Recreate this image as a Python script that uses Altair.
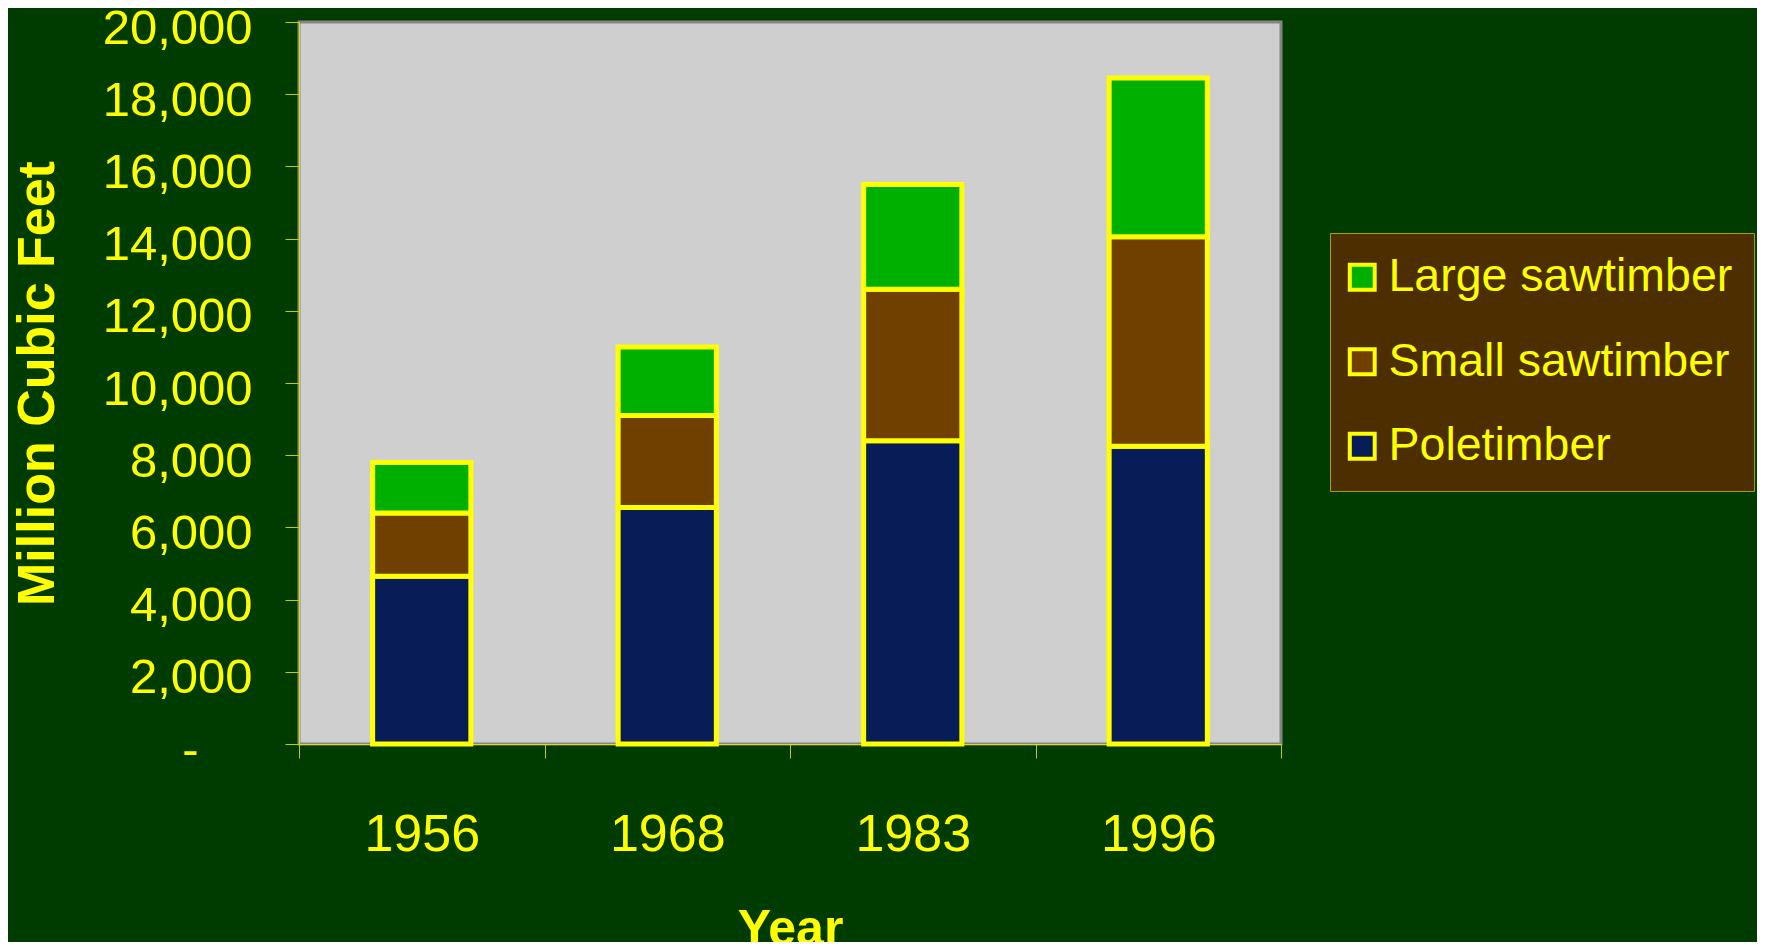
import altair as alt
import pandas as pd

years = ["1956", "1968", "1983", "1996"]
poletimber = [4650, 6550, 8400, 8250]
small_saw = [1750, 2550, 4200, 5800]
large_saw = [1400, 1900, 2900, 4400]
series = ["Large sawtimber", "Small sawtimber", "Poletimber"]
colors = ["#00B000", "#704000", "#081C58"]
y_ticks = list(range(0, 20001, 2000))

rows = []
for i, yr in enumerate(years):
    rows.append({"Year": yr, "Type": "Poletimber", "Value": poletimber[i], "ord": 0})
    rows.append({"Year": yr, "Type": "Small sawtimber", "Value": small_saw[i], "ord": 1})
    rows.append({"Year": yr, "Type": "Large sawtimber", "Value": large_saw[i], "ord": 2})
df = pd.DataFrame(rows)

YEL = "#FFFF00"
FONT = "Liberation Sans, Arial"

chart = alt.Chart(df).mark_bar(
    stroke=YEL, strokeWidth=5, strokeJoin="miter", width={"band": 0.4}
).encode(
    x=alt.X(
        "Year:N",
        sort=years,
        scale=alt.Scale(paddingInner=0, paddingOuter=0),
        axis=alt.Axis(
            title="Year",
            labelAngle=0,
            tickBand="extent",
            tickSize=14,
            tickColor="#C8C800",
            tickWidth=1,
            domainColor="#E0E000",
            domainWidth=1,
            labelFont=FONT,
            labelFontSize=52,
            labelColor=YEL,
            labelPadding=51,
            labelBaseline="top",
            titleFont=FONT,
            titleFontSize=50,
            titleFontWeight="bold",
            titleColor=YEL,
            titleBaseline="top",
            titleY=160,
        ),
    ),
    y=alt.Y(
        "Value:Q",
        stack="zero",
        scale=alt.Scale(domain=[0, 20000], nice=False),
        axis=alt.Axis(
            title="Million Cubic Feet",
            values=y_ticks,
            labelExpr="datum.value == 0 ? '-' : format(datum.value, ',')",
            grid=False,
            tickSize=14,
            tickColor="#C8C800",
            tickWidth=1,
            domainColor="#E0E000",
            domainWidth=1,
            labelFont=FONT,
            labelFontSize=49,
            labelColor=YEL,
            labelPadding={"condition": {"test": "datum.value === 0", "value": 87}, "value": 33},
            labelOffset=6,
            titleFont=FONT,
            titleFontSize=52,
            titleFontWeight="bold",
            titleColor=YEL,
            titleAngle=270,
            titleAlign="center",
            titleBaseline="top",
            titleX=-287,
            titleY=361,
        ),
    ),
    color=alt.Color(
        "Type:N",
        scale=alt.Scale(domain=series, range=colors),
        legend=alt.Legend(
            title=None,
            orient="none",
            legendX=1031,
            legendY=211,
            fillColor="#4C2E00",
            strokeColor="#A0A000",
            padding=21,
            symbolOffset=-12,
            symbolType="square",
            symbolSize=620,
            symbolStrokeColor=YEL,
            symbolStrokeWidth=4,
            symbolOpacity=1,
            labelFont=FONT,
            labelFontSize=46.5,
            labelColor=YEL,
            labelOffset=3,
            labelLimit=1000,
            rowPadding=37.5,
        ),
    ),
    order=alt.Order("ord:Q", sort="ascending"),
).properties(
    width=982,
    height=722,
    autosize=alt.AutoSizeParams(type="none"),
    padding={"left": 291, "top": 14, "right": 476, "bottom": 198},
    background="#003C00",
).configure_view(
    fill="#CFCFCF",
    stroke="#858585",
    strokeWidth=3,
).configure_legend(
    strokeWidth=1,
)

chart.save("out.html", embed_options={"renderer": "svg", "actions": False})
